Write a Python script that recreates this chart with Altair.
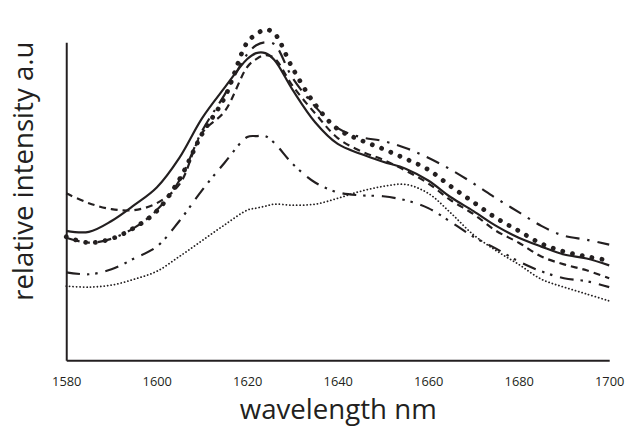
import altair as alt
import pandas as pd

wavelength = [1580, 1585, 1590, 1595, 1600, 1605, 1610, 1615, 1620, 1622, 1624, 1626,
              1630, 1635, 1640, 1645, 1650, 1655, 1660, 1665, 1670, 1675, 1680, 1685,
              1690, 1695, 1700]

solid = [131, 130, 141, 157, 175, 205, 245, 276, 305, 311, 311, 304, 274, 241, 219, 209,
         201, 194, 182, 165, 151, 136, 124, 115, 107, 103, 96]
dashed = [169, 159, 153, 152, 159, 178, 230, 252, 297, 305, 309, 306, 278, 250, 225, 212,
          203, 192, 179, 162, 148, 131, 119, 105, 97, 91, 83]
round_dot = [125, 119, 123, 134, 151, 183, 229, 266, 322, 330, 335, 331, 296, 259, 234, 223,
             214, 204, 193, 176, 160, 144, 131, 118, 110, 105, 101]
dash_dot = [124, 119, 123, 134, 152, 182, 232, 269, 310, 319, 322, 320, 286, 257, 235, 226,
            222, 215, 205, 193, 179, 164, 150, 136, 126, 122, 117]
dash_dot_dot = [89, 87, 92, 103, 115, 141, 172, 200, 226, 227, 227, 220, 199, 180, 170, 167,
                166, 162, 154, 140, 125, 113, 100, 90, 83, 80, 74]
fine_dot = [75, 74, 76, 82, 90, 105, 121, 137, 152, 154, 156, 158, 157, 158, 164, 171,
            176, 178, 169, 149, 127, 111, 97, 82, 74, 67, 60]

x_ticks = [1580, 1600, 1620, 1640, 1660, 1680, 1700]

series = {
    "solid": solid,
    "dashed": dashed,
    "round_dot": round_dot,
    "dash_dot": dash_dot,
    "dash_dot_dot": dash_dot_dot,
    "fine_dot": fine_dot,
}

rows = []
for name, vals in series.items():
    for w, v in zip(wavelength, vals):
        rows.append({"series": name, "wavelength": w, "intensity": v})
df = pd.DataFrame(rows)

INK = "#231f20"

styles = [
    ("fine_dot", dict(strokeWidth=1.8, strokeDash=[0.1, 3.4], strokeCap="round")),
    ("dash_dot_dot", dict(strokeWidth=2.2, strokeDash=[14, 7, 2.5, 6, 2.5, 8], strokeCap="butt")),
    ("dash_dot", dict(strokeWidth=2.2, strokeDash=[14, 8, 2.5, 8], strokeCap="butt")),
    ("dashed", dict(strokeWidth=2.2, strokeDash=[7, 5], strokeCap="butt")),
    ("solid", dict(strokeWidth=2.2)),
    ("round_dot", dict(strokeWidth=4.8, strokeDash=[0.1, 10], strokeCap="round")),
]

x_enc = alt.X(
    "wavelength:Q",
    scale=alt.Scale(domain=[1580, 1700], nice=False, zero=False),
    axis=alt.Axis(
        values=x_ticks, format="d", title="wavelength nm", grid=False,
        ticks=False, tickSize=0, labelFlush=False, labelPadding=26,
        labelBaseline="alphabetic", titleBaseline="alphabetic",
        titleX=275, titleY=59,
    ),
)
y_enc = alt.Y(
    "intensity:Q",
    scale=alt.Scale(domain=[0, 322], nice=False, zero=False),
    axis=alt.Axis(
        labels=False, ticks=False, tickSize=0, grid=False,
        title="relative intensity a.u", titleBaseline="alphabetic",
        titleAngle=270, titleAlign="center", titleX=-34, titleY=130,
    ),
)

layers = []
for name, st in styles:
    layers.append(
        alt.Chart(df)
        .transform_filter(alt.datum.series == name)
        .mark_line(interpolate="catmull-rom", color=INK, **st)
        .encode(x=x_enc, y=y_enc)
    )

chart = (
    alt.layer(*layers)
    .properties(
        width=550, height=322,
        autosize=alt.AutoSizeParams(type="none"),
        padding={"left": 59, "top": 32, "right": 17, "bottom": 67},
    )
    .configure_view(stroke=None)
    .configure_axis(
        domainColor=INK, domainWidth=2,
        labelFont="Open Sans", labelFontSize=13, labelColor=INK,
        titleFont="Open Sans", titleFontSize=28, titleFontWeight="normal", titleColor=INK,
    )
)

chart.save("out.html", embed_options={"renderer": "svg", "actions": False})
